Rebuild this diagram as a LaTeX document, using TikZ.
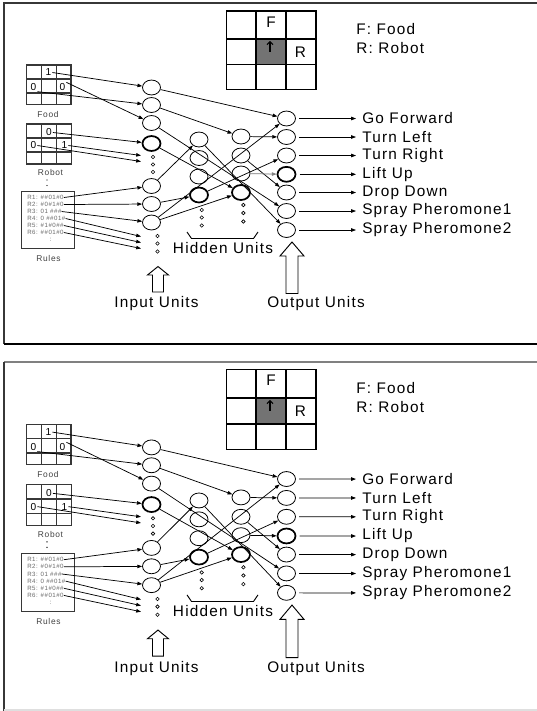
\documentclass[tikz,border=0pt]{standalone}
\usepackage{fontspec}
\setmainfont{Liberation Sans}[LetterSpace=8]
\usetikzlibrary{shapes.geometric,arrows.meta}
\definecolor{framegray}{RGB}{55,55,55}
\definecolor{cellgray}{RGB}{115,115,115}
\definecolor{ruletext}{RGB}{105,105,105}
\definecolor{labelgray}{RGB}{65,65,65}
\tikzset{
  unit/.style={ellipse, draw, minimum width=13.5pt, minimum height=11.2pt, inner sep=0pt, line width=0.6pt},
  boldunit/.style={unit, line width=1.3pt},
  gapdot/.style={circle, draw, minimum size=2.6pt, inner sep=0pt, line width=0.45pt},
  link/.style={line width=0.55pt, -{Triangle[length=3.6pt,width=2.6pt]}},
  biglabel/.style={font=\fontsize{11.5}{13}\selectfont, inner sep=0pt},
  minilabel/.style={font=\fontsize{6.3}{7}\selectfont, text=labelgray, inner sep=0pt},
  digit/.style={font=\fontsize{7.6}{8}\selectfont, inner sep=0.6pt},
  ruleline/.style={font=\fontsize{4.6}{5}\selectfont, text=ruletext, anchor=west, inner sep=0pt},
  smallgrid/.style={draw=framegray, line width=0.9pt},
  blockarrow/.style={draw, line width=0.7pt, fill=white},
  outlink/.style={link, shorten <=2.5pt, shorten >=4.5pt},
}
% one copy of the network figure; #1 is the colour of the Lift Up feed
\newcommand\netpanel[1]{%
  % 3x3 neighbourhood of the robot
  \fill[cellgray] (256,39) rectangle (286,64.5);
  \draw[line width=1.1pt] (226.5,11) rectangle (316,89.5)
     (256,11) -- (256,89.5) (286,11) -- (286,89.5)
     (226.5,39) -- (316,39) (226.5,64.5) -- (316,64.5);
  \node[biglabel] (cellF) at (271,22) {F};
  \node[biglabel] (cellR) at (300.5,52) {R};
  \coordinate (hd0) at (270,51.5);
  \coordinate (hd1) at (270,41);
  \draw[line width=0.8pt, -{Straight Barb[length=2.2pt,width=4.5pt]}] (hd0) -- (hd1);
  \node[biglabel, anchor=west] (keyF) at (356,29.5) {F: Food};
  \node[biglabel, anchor=west] (keyR) at (356,48) {R: Robot};
  % food sensor grid
  \draw[smallgrid] (26.5,65) rectangle (71,104.5)
     (41.5,65) -- (41.5,104.5) (56.5,65) -- (56.5,104.5)
     (26.5,79) -- (71,79) (26.5,93) -- (71,93);
  \node[digit] (fa) at (48.5,72.5) {1};
  \node[digit] (fb) at (33.5,87) {0};
  \node[digit] (fc) at (62.5,87) {0};
  \node[minilabel] (foodlbl) at (48,114) {Food};
  % robot sensor grid
  \draw[smallgrid] (26.5,124) rectangle (71.5,164)
     (41.5,124) -- (41.5,164) (56.5,124) -- (56.5,164)
     (26.5,138) -- (71.5,138) (26.5,152) -- (71.5,152);
  \node[digit] (ra) at (49,132.5) {0};
  \node[digit] (rb) at (33.5,145.5) {0};
  \node[digit] (rc) at (64.5,145.5) {1};
  \node[minilabel] (robotlbl) at (50.5,172.5) {Robot};
  \fill (47,180) circle (0.55pt) (47,185.5) circle (0.55pt);
  % rule table
  \draw[framegray, line width=0.75pt] (21.5,191) rectangle (74.5,248);
  \node[ruleline] (rule1) at (27,197.5) {R1: \#\#01\#0};
  \node[ruleline] (rule2) at (27,204.5) {R2: \#0\#1\#0};
  \node[ruleline] (rule3) at (27,211.5) {R3: 01 \#\#\#};
  \node[ruleline] (rule4) at (27,218.5) {R4: 0 \#\#01\#};
  \node[ruleline] (rule5) at (27,225.5) {R5: \#1\#0\#\#};
  \node[ruleline] (rule6) at (27,232.5) {R6: \#\#01\#0};
  \node[ruleline, anchor=center] (rulemore) at (50.6,239.5) {:};
  \node[minilabel] (ruleslbl) at (48.5,258.5) {Rules};
  % input units
  \node[unit] (in1) at (151.5,87.5) {};
  \node[unit] (in2) at (151.5,105) {};
  \node[unit] (in3) at (151.5,123) {};
  \node[boldunit] (in4) at (151.5,143.5) {};
  \node[gapdot] (ia) at (153,157) {};
  \node[gapdot] (ib) at (153,164.5) {};
  \node[gapdot] (ic) at (153,172) {};
  \node[unit] (in5) at (151.5,186) {};
  \node[unit] (in6) at (151.5,204) {};
  \node[unit] (in7) at (151.5,222.5) {};
  \node[gapdot] (id) at (157.5,236) {};
  \node[gapdot] (ie) at (157.5,243.5) {};
  \node[gapdot] (if) at (157.5,251.5) {};
  % first hidden layer
  \node[unit] (ha1) at (199,139.5) {};
  \node[unit] (ha2) at (199,158) {};
  \node[unit] (ha3) at (199,176.5) {};
  \node[boldunit] (ha4) at (199,195) {};
  \node[gapdot] (hda) at (201.7,210) {};
  \node[gapdot] (hdb) at (201.7,217.5) {};
  \node[gapdot] (hdc) at (201.7,225.5) {};
  % second hidden layer
  \node[unit] (hb1) at (241,136.5) {};
  \node[unit] (hb2) at (241,155.5) {};
  \node[unit] (hb3) at (241,173.5) {};
  \node[boldunit] (hb4) at (241,192.5) {};
  \node[gapdot] (hdd) at (243.4,205) {};
  \node[gapdot] (hde) at (243.4,213) {};
  \node[gapdot] (hdf) at (243.4,221.5) {};
  % output units and actions
  \node[unit] (out1) at (286.5,118.5) {};
  \node[unit] (out2) at (286.5,137) {};
  \node[unit] (out3) at (286.5,155.5) {};
  \node[boldunit] (out4) at (286.5,174.3) {};
  \node[unit] (out5) at (286.5,192.5) {};
  \node[unit] (out6) at (286.5,211) {};
  \node[unit] (out7) at (286.5,230) {};
  \node[biglabel, anchor=west] (act1) at (362,118.5) {Go Forward};
  \node[biglabel, anchor=west] (act2) at (362,137) {Turn Left};
  \node[biglabel, anchor=west] (act3) at (362,155.5) {Turn Right};
  \node[biglabel, anchor=west] (act4) at (362,174.3) {Lift Up};
  \node[biglabel, anchor=west] (act5) at (362,192.5) {Drop Down};
  \node[biglabel, anchor=west] (act6) at (362,211) {Spray Pheromone1};
  \node[biglabel, anchor=west] (act7) at (362,230) {Spray Pheromone2};
  \foreach \k in {1,...,7} {\draw[outlink] (out\k) -- (act\k);}
  % sensor feeds
  \coordinate (rt1) at (141,155.5);
  \coordinate (rt2) at (141,161.5);
  \coordinate (qt4) at (141,236.5);
  \coordinate (qt5) at (141,242.5);
  \coordinate (qt6) at (141,248.5);
  \draw[link] (fa.east) -- (in1);
  \draw[link] (fb.south east) -- (in2);
  \draw[link] (fc.north east) -- (in3);
  \draw[link] (ra.east) -- (in4);
  \draw[link] (rc.east) -- (rt1);
  \draw[link] (rb.east) -- (rt2);
  \draw[link] (rule1.east) -- (in5);
  \draw[link] (rule2.east) -- (in6);
  \draw[link] (rule3.east) -- (in7);
  \draw[link] (rule4.east) -- (qt4);
  \draw[link] (rule5.east) -- (qt5);
  \draw[link] (rule6.east) -- (qt6);
  % weights
  \draw[link] (in1) -- (out1);
  \draw[link] (in2) -- (hb1);
  \draw[link] (in3) -- (out6);
  \draw[link] (in4) -- (hb4);
  \draw[link] (in5) -- (ha1);
  \draw[link] (in6) -- (ha4);
  \draw[link] (in7) -- (hb4);
  \draw[link] (in7) -- (out1);
  \draw[link] (ha1) -- (out7);
  \draw[link] (ha4) -- (out3);
  \draw[link] (hb1) -- (out2);
  \draw[link] (hb2) -- (out5);
  \draw[link, draw=#1, fill=#1] (hb3) -- (out4);
  % layer captions
  \draw[line width=0.7pt] (187,232) -- (191.5,238.5) -- (253.5,238.5) -- (258,232);
  \node[biglabel] (hidlbl) at (223,248) {Hidden Units};
  \draw[blockarrow] (158,266.5) -- (168.5,275) -- (163.5,275) -- (163.5,292)
     -- (152.5,292) -- (152.5,275) -- (147.5,275) -- cycle;
  \node[biglabel] (inlbl) at (156.5,304) {Input Units};
  \draw[blockarrow] (292,242) -- (304,256) -- (298,256) -- (298,293.5)
     -- (286,293.5) -- (286,256) -- (280,256) -- cycle;
  \node[biglabel] (outlbl) at (316,304) {Output Units};
}

\begin{document}
\begin{tikzpicture}[x=0.75pt, y=-0.75pt]
  \useasboundingbox (0,0) rectangle (536,711);
  \fill[white] (0,0) rectangle (536,711);
  % upper panel
  \draw[framegray, line width=1pt] (540,3) -- (4,3) -- (4,344);
  \draw[black, line width=1.1pt] (4,344) -- (540,344);
  \begin{scope}[name prefix=up-]
    \netpanel{gray}
  \end{scope}
  % lower panel
  \draw[gray, line width=1.2pt] (540,362) -- (4,362);
  \draw[framegray, line width=1pt] (4,362) -- (4,712);
  \draw[gray!25, line width=1pt] (4,710) -- (540,710);
  \begin{scope}[name prefix=lo-, shift={(0,358.1)}, yscale=1.0205]
    \netpanel{black}
  \end{scope}
\end{tikzpicture}
\end{document}
